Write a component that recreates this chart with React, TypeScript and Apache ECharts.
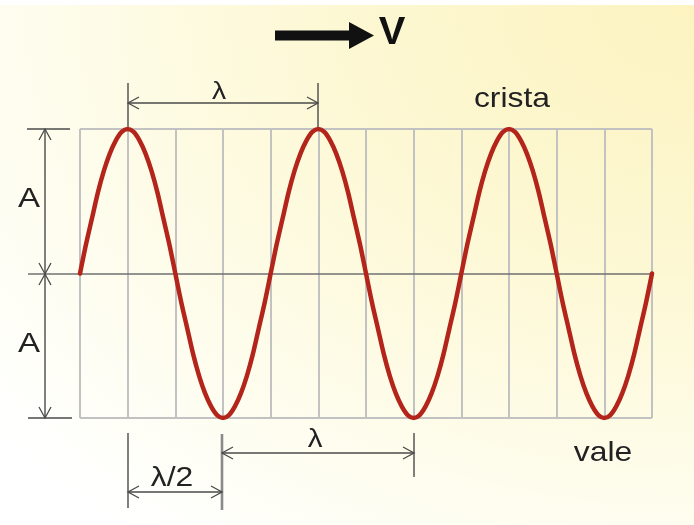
import React, { useEffect, useRef } from "react";
import * as echarts from "echarts";

// Wave samples: position along the grid (in grid columns, 1/8-column steps) and displacement (in units of A)
const waveX = [
  0, 0.125, 0.25, 0.375, 0.5, 0.625, 0.75, 0.875, 1, 1.125, 1.25, 1.375, 1.5, 1.625, 1.75, 1.875,
  2, 2.125, 2.25, 2.375, 2.5, 2.625, 2.75, 2.875, 3, 3.125, 3.25, 3.375, 3.5, 3.625, 3.75, 3.875,
  4, 4.125, 4.25, 4.375, 4.5, 4.625, 4.75, 4.875, 5, 5.125, 5.25, 5.375, 5.5, 5.625, 5.75, 5.875,
  6, 6.125, 6.25, 6.375, 6.5, 6.625, 6.75, 6.875, 7, 7.125, 7.25, 7.375, 7.5, 7.625, 7.75, 7.875,
  8, 8.125, 8.25, 8.375, 8.5, 8.625, 8.75, 8.875, 9, 9.125, 9.25, 9.375, 9.5, 9.625, 9.75, 9.875,
  10, 10.125, 10.25, 10.375, 10.5, 10.625, 10.75, 10.875, 11, 11.125, 11.25, 11.375, 11.5, 11.625, 11.75, 11.875,
  12,
];
const waveY = [
  0, 0.2, 0.38, 0.56, 0.71, 0.83, 0.92, 0.98, 1, 0.98, 0.92, 0.83, 0.71, 0.56, 0.38, 0.2,
  0, -0.2, -0.38, -0.56, -0.71, -0.83, -0.92, -0.98, -1, -0.98, -0.92, -0.83, -0.71, -0.56, -0.38, -0.2,
  0, 0.2, 0.38, 0.56, 0.71, 0.83, 0.92, 0.98, 1, 0.98, 0.92, 0.83, 0.71, 0.56, 0.38, 0.2,
  0, -0.2, -0.38, -0.56, -0.71, -0.83, -0.92, -0.98, -1, -0.98, -0.92, -0.83, -0.71, -0.56, -0.38, -0.2,
  0, 0.2, 0.38, 0.56, 0.71, 0.83, 0.92, 0.98, 1, 0.98, 0.92, 0.83, 0.71, 0.56, 0.38, 0.2,
  0, -0.2, -0.38, -0.56, -0.71, -0.83, -0.92, -0.98, -1, -0.98, -0.92, -0.83, -0.71, -0.56, -0.38, -0.2,
  0,
];

// Labels
const velocityLabel = "V";
const wavelengthLabel = "λ";
const halfWavelengthLabel = "λ/2";
const amplitudeLabel = "A";
const crestLabel = "crista";
const troughLabel = "vale";

const FONT = "'Liberation Sans', Arial, 'Noto Sans', sans-serif";
const DIM = "#4a4a4a";
const TXT = "#222222";

function dimLine(x1: number, y1: number, x2: number, y2: number, w = 1.4, c = DIM) {
  return {
    type: "line",
    silent: true,
    shape: { x1, y1, x2, y2 },
    style: { stroke: c, lineWidth: w },
  };
}

function chevron(points: number[][]) {
  return {
    type: "polyline",
    silent: true,
    shape: { points },
    style: { stroke: DIM, lineWidth: 1.3, fill: null },
  };
}

function label(text: string, x: number, y: number, size: number, opts: any = {}) {
  return {
    type: "text",
    silent: true,
    x,
    y,
    scaleX: opts.scaleX ?? 1.18,
    scaleY: 1,
    style: {
      text,
      fill: opts.fill ?? TXT,
      font: `${opts.weight ?? "normal"} ${size}px ${FONT}`,
      textAlign: "center",
      textVerticalAlign: "middle",
    },
  };
}

export default function App() {
  const ref = useRef<HTMLDivElement>(null);

  useEffect(() => {
    if (!ref.current) return;
    const chart = echarts.init(ref.current, null, { renderer: "svg" });

    const data = waveX.map((x, i) => [x, waveY[i]]);

    const graphic: any[] = [
      // thin white strip at the top edge
      {
        type: "rect",
        silent: true,
        shape: { x: 0, y: 0, width: 694, height: 5 },
        style: { fill: "#ffffff" },
      },
      // velocity arrow
      {
        type: "polygon",
        silent: true,
        shape: {
          points: [
            [275, 30.5],
            [349, 30.5],
            [349, 22],
            [374, 35.5],
            [349, 49],
            [349, 40.5],
            [275, 40.5],
          ],
        },
        style: { fill: "#111111" },
      },
      label(velocityLabel, 392, 31, 38, { weight: "bold", fill: "#111111", scaleX: 1.05 }),

      // top wavelength dimension
      dimLine(128, 83, 128, 129),
      dimLine(318, 83, 318, 129),
      dimLine(128, 103, 318, 103),
      chevron([[139, 97], [128, 103], [139, 109]]),
      chevron([[307, 97], [318, 103], [307, 109]]),
      label(wavelengthLabel, 219, 91, 24),

      label(crestLabel, 512, 97, 27),

      // amplitude dimension
      dimLine(45, 129, 45, 418),
      dimLine(27, 129, 70, 129),
      dimLine(28, 418, 72, 418),
      dimLine(28, 274, 80, 274, 1.5, "#707070"),
      chevron([[39, 140], [45, 129], [51, 140]]),
      chevron([[39, 263], [45, 274], [51, 263]]),
      chevron([[39, 285], [45, 274], [51, 285]]),
      chevron([[39, 407], [45, 418], [51, 407]]),
      label(amplitudeLabel, 29, 197, 28),
      label(amplitudeLabel, 29, 342, 28),

      // bottom dimensions
      dimLine(128, 433, 128, 508),
      dimLine(222, 434, 222, 510, 2.6, "#8a8a8a"),
      dimLine(414, 433, 414, 477),
      dimLine(222, 453, 414, 453),
      chevron([[233, 447], [222, 453], [233, 459]]),
      chevron([[403, 447], [414, 453], [403, 459]]),
      label(wavelengthLabel, 315, 438, 25),
      dimLine(128, 492, 222, 492),
      chevron([[139, 486], [128, 492], [139, 498]]),
      chevron([[211, 486], [222, 492], [211, 498]]),
      label(halfWavelengthLabel, 172, 476, 27),

      label(troughLabel, 603, 451, 27),
    ];

    chart.setOption({
      animation: false,
      backgroundColor: {
        type: "radial",
        x: 1,
        y: 0,
        r: 1.3,
        colorStops: [
          { offset: 0, color: "#fcf3c0" },
          { offset: 0.4, color: "#fdf8d4" },
          { offset: 0.75, color: "#fefdee" },
          { offset: 1, color: "#ffffff" },
        ],
      },
      grid: { left: 80, right: 42, top: 129, bottom: 107 },
      xAxis: {
        type: "value",
        min: 0,
        max: 12,
        interval: 1,
        axisLabel: { show: false },
        axisTick: { show: false },
        axisLine: { show: true, onZero: true, lineStyle: { color: "#707070", width: 1.5 } },
        splitLine: { show: true, lineStyle: { color: "#c2c2c2", width: 2 } },
      },
      yAxis: {
        type: "value",
        min: -1,
        max: 1,
        interval: 1,
        axisLabel: { show: false },
        axisTick: { show: false },
        axisLine: { show: false },
        splitLine: {
          show: true,
          lineStyle: { color: ["#c2c2c2", "rgba(0,0,0,0)", "#c2c2c2"], width: 2 },
        },
      },
      series: [
        {
          type: "line",
          data,
          smooth: 0.3,
          showSymbol: false,
          silent: true,
          z: 3,
          lineStyle: { color: "#b3241b", width: 4.5, cap: "round", join: "round" },
        },
      ],
      graphic,
    });

    return () => chart.dispose();
  }, []);

  return (
    <div
      ref={ref}
      style={{ position: "fixed", left: 0, top: 0, width: 694, height: 525 }}
    />
  );
}
